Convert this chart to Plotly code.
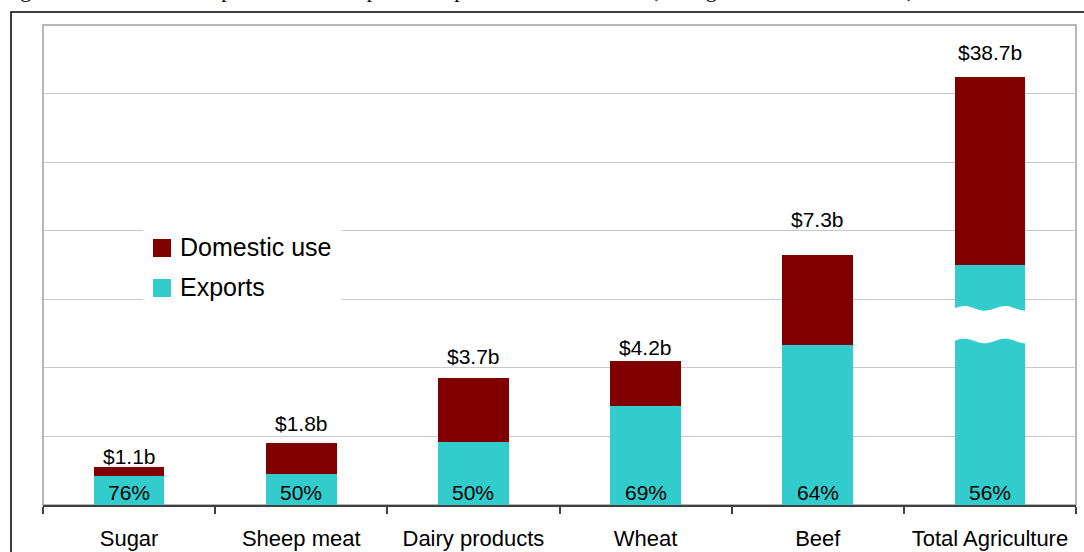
import numpy as np
import plotly.graph_objects as go

# ---- data ----------------------------------------------------------------
categories = ["Sugar", "Sheep meat", "Dairy products", "Wheat", "Beef", "Total Agriculture"]
total_value_b = [1.1, 1.8, 3.7, 4.2, 7.3, 38.7]        # $ billion
export_share_pct = [76, 50, 50, 69, 64, 56]             # % of value exported

exports_b = [t * s / 100 for t, s in zip(total_value_b, export_share_pct)]
domestic_b = [t - e for t, e in zip(total_value_b, exports_b)]

# ---- styling ---------------------------------------------------------------
W, H = 1084, 552
M_L, M_R, M_T, M_B = 43, 8, 25, 47
PW, PH = W - M_L - M_R, H - M_T - M_B
MAROON = "#800000"
TEAL = "#33CCCC"
FONT = "Liberation Sans, Arial, sans-serif"
BAR_W = 0.41
label_lift = [11, 20, 22, 14, 35, 24]     # px gap between bar top and value label
MAIN_RANGE = [0, 14]                       # small commodities
TOTAL_RANGE = [0, 43.4]                    # total bar drawn on its own (broken) scale


def px_x(px):
    return (px - M_L) / PW


def px_y(py):
    return (H - M_B - py) / PH


n_main = len(categories) - 1
fig = go.Figure()

# individual commodities on the main axis
fig.add_trace(go.Bar(x=categories[:n_main], y=exports_b[:n_main], width=BAR_W,
                     marker=dict(color=TEAL, line=dict(width=0)), name="Exports",
                     showlegend=False, hoverinfo="x+y"))
fig.add_trace(go.Bar(x=categories[:n_main], y=domestic_b[:n_main], base=exports_b[:n_main],
                     width=BAR_W, marker=dict(color=MAROON, line=dict(width=0)),
                     name="Domestic use", showlegend=False, hoverinfo="x+y"))

# total agriculture on the secondary, compressed axis
fig.add_trace(go.Bar(x=categories[n_main:], y=exports_b[n_main:], width=BAR_W, yaxis="y2",
                     marker=dict(color=TEAL, line=dict(width=0)), name="Exports",
                     showlegend=False, hoverinfo="x+y"))
fig.add_trace(go.Bar(x=categories[n_main:], y=domestic_b[n_main:], base=exports_b[n_main:],
                     width=BAR_W, yaxis="y2", marker=dict(color=MAROON, line=dict(width=0)),
                     name="Domestic use", showlegend=False, hoverinfo="x+y"))

annotations = []
for i, cat in enumerate(categories):
    yref = "y" if i < n_main else "y2"
    annotations.append(dict(x=cat, y=total_value_b[i], xref="x", yref=yref,
                            text=f"${total_value_b[i]:.1f}b", showarrow=False,
                            yanchor="middle", yshift=label_lift[i],
                            font=dict(family=FONT, size=21, color="black")))
    annotations.append(dict(x=cat, y=0, xref="x", yref=yref,
                            text=f"{export_share_pct[i]}%", showarrow=False,
                            yanchor="middle", yshift=13,
                            font=dict(family=FONT, size=21, color="black")))

# legend drawn by hand
annotations += [
    dict(x=px_x(178), y=px_y(247), xref="paper", yref="paper", text="Domestic use",
         showarrow=False, xanchor="left", yanchor="middle",
         font=dict(family=FONT, size=25, color="black")),
    dict(x=px_x(178), y=px_y(287), xref="paper", yref="paper", text="Exports",
         showarrow=False, xanchor="left", yanchor="middle",
         font=dict(family=FONT, size=25, color="black")),
]

# figure heading, running off the top edge
annotations.append(dict(
    x=px_x(0), y=px_y(4), xref="paper", yref="paper", xanchor="left", yanchor="bottom",
    text="Figure 2: Gross value of production of exports compared to domestic use (average 2005-06 to 2007-08)",
    showarrow=False, font=dict(family="Liberation Serif, Times New Roman, serif", size=22, color="black")))

shapes = []
# plot area frame
shapes.append(dict(type="rect", xref="paper", yref="paper", x0=0, x1=1, y0=0, y1=1,
                   line=dict(color="#A0A0A0", width=1.5), layer="below"))
# outer frame
shapes.append(dict(type="rect", xref="paper", yref="paper", x0=px_x(11), x1=px_x(1100),
                   y0=px_y(570), y1=px_y(12), line=dict(color="black", width=1.5),
                   layer="above"))
# legend panel and swatches
shapes.append(dict(type="rect", xref="paper", yref="paper", x0=px_x(143), x1=px_x(342),
                   y0=px_y(302), y1=px_y(228), fillcolor="white", line=dict(width=0),
                   layer="above"))
shapes.append(dict(type="rect", xref="paper", yref="paper", x0=px_x(153), x1=px_x(171),
                   y0=px_y(257), y1=px_y(239), fillcolor=MAROON, line=dict(width=0),
                   layer="above"))
shapes.append(dict(type="rect", xref="paper", yref="paper", x0=px_x(153), x1=px_x(171),
                   y0=px_y(297), y1=px_y(279), fillcolor=TEAL, line=dict(width=0),
                   layer="above"))

# wavy break across the total bar
unit_px = PH / (TOTAL_RANGE[1] - TOTAL_RANGE[0])
i_tot = len(categories) - 1
u = np.linspace(0, 1, 41)
xs = i_tot - BAR_W / 2 - 0.01 + u * (BAR_W + 0.02)
wave = -2.3 * np.cos(2 * np.pi * (u - 0.43) / 0.55) / unit_px
top_edge = 17.78 + wave
bot_edge = 14.83 + wave
pts = [(x, y) for x, y in zip(xs, top_edge)] + [(x, y) for x, y in zip(xs[::-1], bot_edge[::-1])]
path = "M " + " L ".join(f"{x:.4f},{y:.4f}" for x, y in pts) + " Z"
shapes.append(dict(type="path", xref="x", yref="y2", path=path, fillcolor="white",
                   line=dict(width=0), layer="above"))

fig.update_layout(
    width=W, height=H,
    margin=dict(l=M_L, r=M_R, t=M_T, b=M_B, autoexpand=False),
    paper_bgcolor="white", plot_bgcolor="white",
    barmode="overlay", bargap=0,
    showlegend=False,
    xaxis=dict(type="category", categoryorder="array", categoryarray=categories,
               range=[-0.5, len(categories) - 0.5], automargin=False,
               showline=True, linecolor="#404040", linewidth=1.5,
               ticks="outside", ticklen=7, tickcolor="#404040", tickwidth=1.5,
               tickson="boundaries", ticklabelstandoff=13,
               tickfont=dict(family=FONT, size=22, color="black"),
               showgrid=False, zeroline=False, fixedrange=True),
    yaxis=dict(range=MAIN_RANGE, dtick=2, showticklabels=False, ticks="", automargin=False,
               showgrid=True, gridcolor="#C8C8C8", gridwidth=1,
               zeroline=False, showline=False, fixedrange=True),
    yaxis2=dict(range=TOTAL_RANGE, overlaying="y", visible=False, showgrid=False,
                automargin=False, zeroline=False, fixedrange=True),
    annotations=annotations,
    shapes=shapes,
)

fig.write_html("out.html")
